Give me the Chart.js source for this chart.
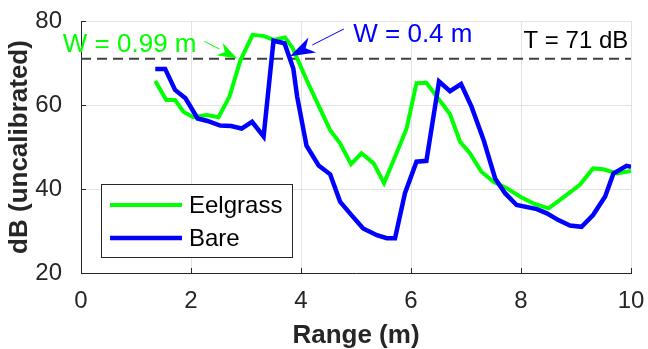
<!DOCTYPE html>
<html>
<head>
<meta charset="utf-8">
<script src="https://cdn.jsdelivr.net/npm/chart.js@4.4.0/dist/chart.umd.min.js"></script>
<style>
html, body { margin: 0; padding: 0; background: #fff; }
</style>
</head>
<body>
<canvas id="rangeChart" width="648" height="349"></canvas>
<script>
const eelgrassRange = [1.35, 1.55, 1.71, 1.86, 2.04, 2.29, 2.50, 2.70, 2.90, 3.12, 3.33, 3.50, 3.71, 3.85, 4.10, 4.35,
    4.53, 4.71, 4.91, 5.10, 5.32, 5.51, 5.71, 5.92, 6.10, 6.28, 6.47, 6.71, 6.89, 7.07, 7.28, 7.50, 7.74, 7.98,
    8.22, 8.50, 8.71, 9.07, 9.31, 9.50, 9.74, 10.0];
const eelgrassDb = [65.7, 61.2, 61.2, 58.4, 57.1, 57.6, 57.1, 62.0, 70.7, 76.7, 76.4, 75.5, 76.1, 73.5, 66.0, 59.0,
    54.0, 50.9, 45.9, 48.5, 46.1, 41.4, 47.7, 54.4, 65.2, 65.3, 62.0, 57.8, 51.3, 48.5, 44.1, 41.7, 40.2, 38.2,
    36.6, 35.4, 37.4, 41.0, 44.9, 44.7, 43.7, 44.3];

const bareRange = [1.35, 1.53, 1.71, 1.90, 2.12, 2.30, 2.53, 2.73, 2.92, 3.11, 3.32, 3.50, 3.70, 3.86, 3.93, 4.10,
    4.32, 4.53, 4.71, 4.89, 5.13, 5.38, 5.56, 5.71, 5.89, 6.10, 6.28, 6.51, 6.71, 6.91, 7.10, 7.32, 7.53, 7.71,
    7.92, 8.29, 8.47, 8.68, 8.89, 9.10, 9.31, 9.53, 9.68, 9.92, 10.0];
const bareDb = [68.6, 68.6, 63.6, 61.6, 56.8, 56.2, 55.1, 55.0, 54.4, 56.0, 52.5, 75.3, 74.7, 68.7, 62.0, 50.3,
    45.6, 43.5, 37.0, 34.2, 30.6, 29.0, 28.3, 28.3, 39.0, 46.5, 46.7, 65.6, 63.3, 65.0, 59.6, 51.7, 42.5, 39.0,
    36.2, 35.2, 34.2, 32.6, 31.3, 31.0, 33.8, 38.2, 43.7, 45.5, 45.3];

const thresholdDb = 71;
const xTicks = [0, 2, 4, 6, 8, 10];
const yTicks = [20, 40, 60, 80];

const FONT = '"Liberation Sans", Arial, Helvetica, sans-serif';
const INK = '#262626';

function toPoints(xs, ys) {
    return xs.map(function (x, i) { return { x: x, y: ys[i] }; });
}

function drawArrow(ctx, x1, y1, x2, y2, color, headLen, headW) {
    var ang = Math.atan2(y2 - y1, x2 - x1);
    var cos = Math.cos(ang), sin = Math.sin(ang);
    var bx = x2 - headLen * cos, by = y2 - headLen * sin;
    ctx.save();
    ctx.strokeStyle = color;
    ctx.fillStyle = color;
    ctx.lineWidth = 1;
    ctx.beginPath();
    ctx.moveTo(x1, y1);
    ctx.lineTo(bx, by);
    ctx.stroke();
    // notched head like matlab's vback2
    var nx = x2 - headLen * 0.7 * cos, ny = y2 - headLen * 0.7 * sin;
    ctx.beginPath();
    ctx.moveTo(x2, y2);
    ctx.lineTo(bx - headW / 2 * sin, by + headW / 2 * cos);
    ctx.lineTo(nx, ny);
    ctx.lineTo(bx + headW / 2 * sin, by - headW / 2 * cos);
    ctx.closePath();
    ctx.fill();
    ctx.restore();
}

const extrasPlugin = {
    id: 'extras',
    afterDatasetsDraw: function (chart) {
        var ctx = chart.ctx;
        var xs = chart.scales.x, ys = chart.scales.y;
        var area = chart.chartArea;
        var px = function (v) { return xs.getPixelForValue(v); };
        var py = function (v) { return ys.getPixelForValue(v); };

        // inward tick marks
        ctx.save();
        ctx.strokeStyle = INK;
        ctx.lineWidth = 1;
        ctx.beginPath();
        xTicks.forEach(function (v) {
            ctx.moveTo(Math.round(px(v)) + 0.5, area.bottom);
            ctx.lineTo(Math.round(px(v)) + 0.5, area.bottom - 5);
        });
        yTicks.forEach(function (v) {
            ctx.moveTo(area.left, Math.round(py(v)) + 0.5);
            ctx.lineTo(area.left + 5, Math.round(py(v)) + 0.5);
        });
        ctx.stroke();
        ctx.restore();

        // annotations
        ctx.save();
        ctx.textBaseline = 'alphabetic';
        ctx.font = '26px ' + FONT;
        ctx.fillStyle = '#00ff00';
        ctx.textAlign = 'left';
        ctx.fillText('W = 0.99 m', px(-0.33), py(72.6));
        ctx.fillStyle = '#0000ff';
        ctx.fillText('W = 0.4 m', px(4.95), py(75.0));
        ctx.font = '24px ' + FONT;
        ctx.fillStyle = '#000';
        ctx.textAlign = 'right';
        ctx.fillText('T = 71 dB', px(9.95), py(73.6));
        ctx.restore();

        drawArrow(ctx, px(2.24), py(75.2), px(2.84), py(71.1), '#00ff00', 20, 14);
        drawArrow(ctx, px(4.78), py(78.1), px(3.80), py(71.6), '#0000ff', 25, 17);

        // legend box
        var lx = area.left + 20, ly = area.top + 163, lw = 191, lh = 73;
        ctx.save();
        ctx.fillStyle = '#fff';
        ctx.fillRect(lx, ly, lw, lh);
        ctx.strokeStyle = INK;
        ctx.lineWidth = 1;
        ctx.strokeRect(lx + 0.5, ly + 0.5, lw, lh);
        var items = [chart.data.datasets[0], chart.data.datasets[1]];
        ctx.font = '24px ' + FONT;
        ctx.textAlign = 'left';
        ctx.textBaseline = 'middle';
        items.forEach(function (ds, i) {
            var yy = ly + 21 + i * 33;
            ctx.strokeStyle = ds.borderColor;
            ctx.lineWidth = ds.borderWidth;
            ctx.beginPath();
            ctx.moveTo(lx + 9, yy);
            ctx.lineTo(lx + 81, yy);
            ctx.stroke();
            ctx.fillStyle = '#000';
            ctx.fillText(ds.label, lx + 88, yy + 1);
        });
        ctx.restore();
    }
};

new Chart('rangeChart', {
    type: 'scatter',
    data: {
        datasets: [{
            label: 'Eelgrass',
            data: toPoints(eelgrassRange, eelgrassDb),
            showLine: true,
            borderColor: '#00ff00',
            borderWidth: 4,
            pointRadius: 0,
            order: 2
        }, {
            label: 'Bare',
            data: toPoints(bareRange, bareDb),
            showLine: true,
            borderColor: '#0000ff',
            borderWidth: 4.5,
            pointRadius: 0,
            order: 1
        }, {
            label: 'Threshold',
            data: [{ x: xTicks[0], y: thresholdDb }, { x: xTicks[xTicks.length - 1], y: thresholdDb }],
            showLine: true,
            borderColor: '#404040',
            borderWidth: 2,
            borderDash: [10, 6],
            pointRadius: 0,
            order: 3
        }]
    },
    options: {
        responsive: false,
        animation: false,
        devicePixelRatio: 1,
        layout: { padding: { top: 21, right: 17, left: 0, bottom: 0 } },
        plugins: { legend: { display: false }, tooltip: { enabled: false } },
        scales: {
            x: {
                type: 'linear',
                min: 0,
                max: 10,
                afterBuildTicks: function (s) { s.ticks = xTicks.map(function (v) { return { value: v }; }); },
                afterFit: function (s) { s.height = 76; s.paddingLeft = 0; s.paddingRight = 0; },
                grid: { color: '#e3e3e3', drawTicks: false },
                border: { color: INK, width: 1 },
                ticks: { font: { family: FONT, size: 24 }, color: INK, padding: 14, maxRotation: 0 },
                title: {
                    display: true, text: 'Range (m)', color: INK,
                    font: { family: FONT, size: 26, weight: 'bold', lineHeight: 1.0 },
                    padding: { top: 0, bottom: 0 }
                }
            },
            y: {
                type: 'linear',
                min: 20,
                max: 80,
                afterBuildTicks: function (s) { s.ticks = yTicks.map(function (v) { return { value: v }; }); },
                afterFit: function (s) { s.width = 81; s.paddingTop = 0; s.paddingBottom = 0; },
                grid: { color: '#e3e3e3', drawTicks: false },
                border: { color: INK, width: 1 },
                ticks: { font: { family: FONT, size: 24 }, color: INK, padding: 19 },
                title: {
                    display: true, text: 'dB (uncalibrated)', color: INK,
                    font: { family: FONT, size: 26, weight: 'bold' },
                    padding: { top: 4, bottom: 0 }
                }
            }
        }
    },
    plugins: [extrasPlugin]
});
</script>
</body>
</html>
